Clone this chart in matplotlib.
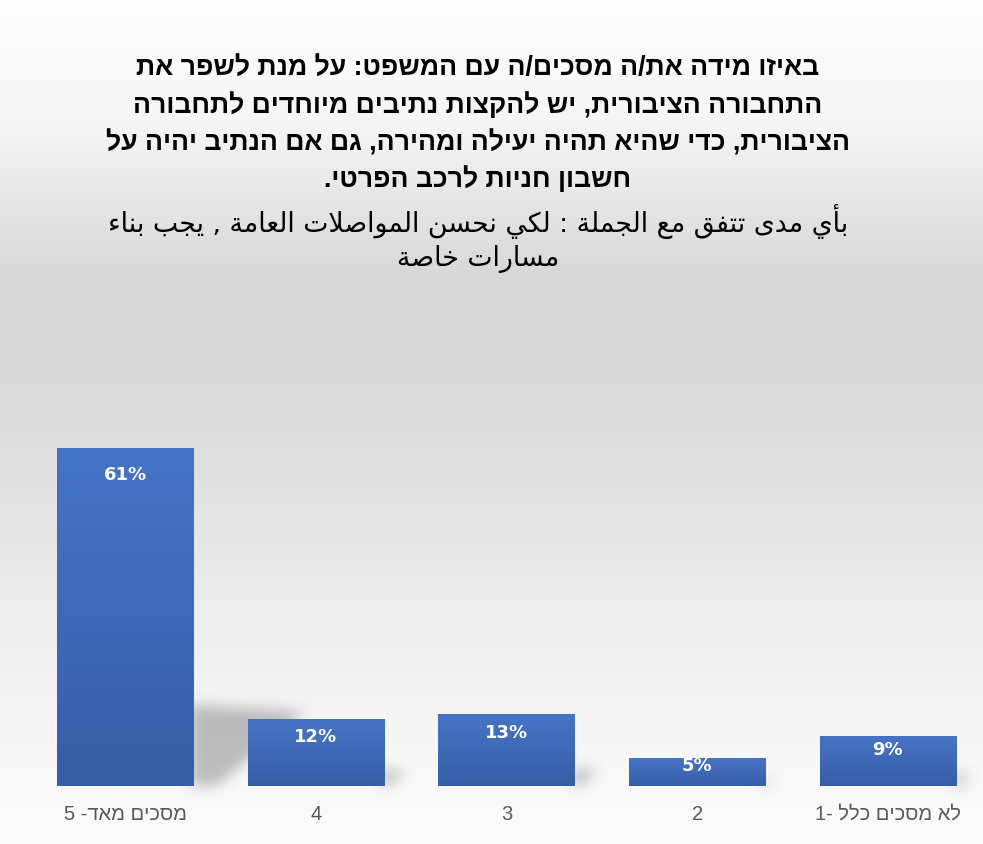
import numpy as np
import matplotlib
matplotlib.use("Agg")
import matplotlib.pyplot as plt
from matplotlib.path import Path

# --- data ---
categories = ["מסכים מאד- 5", "4", "3", "2", "לא מסכים כלל -1"]
values = [61, 12, 13, 5, 9]

title_he = [
    "באיזו מידה את/ה מסכים/ה עם המשפט: על מנת לשפר את",
    "התחבורה הציבורית, יש להקצות נתיבים מיוחדים לתחבורה",
    "הציבורית, כדי שהיא תהיה יעילה ומהירה, גם אם הנתיב יהיה על",
    "חשבון חניות לרכב הפרטי.",
]
title_ar = [
    "بأي مدى تتفق مع الجملة : لكي نحسن المواصلات العامة , يجب بناء",
    "مسارات خاصة",
]

W, H, DPI = 983, 845, 100

# arabic presentation forms: isolated, final, initial, medial
FORMS = {
    "ء": (0xFE80, None, None, None),
    "أ": (0xFE83, 0xFE84, None, None),
    "ا": (0xFE8D, 0xFE8E, None, None),
    "ب": (0xFE8F, 0xFE90, 0xFE91, 0xFE92),
    "ة": (0xFE93, 0xFE94, None, None),
    "ت": (0xFE95, 0xFE96, 0xFE97, 0xFE98),
    "ج": (0xFE9D, 0xFE9E, 0xFE9F, 0xFEA0),
    "ح": (0xFEA1, 0xFEA2, 0xFEA3, 0xFEA4),
    "خ": (0xFEA5, 0xFEA6, 0xFEA7, 0xFEA8),
    "د": (0xFEA9, 0xFEAA, None, None),
    "ر": (0xFEAD, 0xFEAE, None, None),
    "س": (0xFEB1, 0xFEB2, 0xFEB3, 0xFEB4),
    "ص": (0xFEB9, 0xFEBA, 0xFEBB, 0xFEBC),
    "ع": (0xFEC9, 0xFECA, 0xFECB, 0xFECC),
    "ف": (0xFED1, 0xFED2, 0xFED3, 0xFED4),
    "ق": (0xFED5, 0xFED6, 0xFED7, 0xFED8),
    "ك": (0xFED9, 0xFEDA, 0xFEDB, 0xFEDC),
    "ل": (0xFEDD, 0xFEDE, 0xFEDF, 0xFEE0),
    "م": (0xFEE1, 0xFEE2, 0xFEE3, 0xFEE4),
    "ن": (0xFEE5, 0xFEE6, 0xFEE7, 0xFEE8),
    "ه": (0xFEE9, 0xFEEA, 0xFEEB, 0xFEEC),
    "و": (0xFEED, 0xFEEE, None, None),
    "ى": (0xFEEF, 0xFEF0, None, None),
    "ي": (0xFEF1, 0xFEF2, 0xFEF3, 0xFEF4),
    "لا": (0xFEFB, 0xFEFC, None, None),
    "لأ": (0xFEF7, 0xFEF8, None, None),
}


def shape_arabic(s):
    # merge lam-alef, then pick contextual forms, then reverse for LTR drawing
    toks = []
    i = 0
    while i < len(s):
        if s[i] == "ل" and i + 1 < len(s) and s[i + 1] in "اأ":
            toks.append(s[i:i + 2])
            i += 2
        else:
            toks.append(s[i])
            i += 1
    joins = lambda t: t in FORMS and FORMS[t][2] is not None
    out = []
    for i, t in enumerate(toks):
        if t not in FORMS:
            out.append(t)
            continue
        prev_j = i > 0 and joins(toks[i - 1])
        next_j = joins(t) and i + 1 < len(toks) and toks[i + 1] in FORMS
        iso, fin, ini, med = FORMS[t]
        if prev_j and next_j:
            c = med
        elif prev_j:
            c = fin
        elif next_j:
            c = ini
        else:
            c = iso
        out.append(chr(c))
    return "".join(out)[::-1]


def rtl(s):
    return s[::-1]


fig = plt.figure(figsize=(W / DPI, H / DPI), dpi=DPI)
ax = fig.add_axes([30 / W, 58 / H, 953 / W, 487 / H])
ax.patch.set_alpha(0)

x = np.arange(len(values))
bars = ax.bar(x, values, width=0.714, color="none", edgecolor="none")

# gradient fill for each bar
grad = np.linspace(0, 1, 100).reshape(-1, 1)
top_c = np.array([70, 116, 197]) / 255
bot_c = np.array([54, 94, 168]) / 255
grad_img = (top_c * (1 - grad) + bot_c * grad).reshape(100, 1, 3)
for b in bars:
    x0, y0 = b.get_x(), b.get_y()
    ax.imshow(grad_img, extent=[x0, x0 + b.get_width(), y0, y0 + b.get_height()],
              aspect="auto", interpolation="bilinear", zorder=2)
ax.set_xlim(-0.5, len(values) - 0.5)
ax.set_ylim(0, 88.1)

for xi, v in zip(x, values):
    ax.text(xi, max(v - 4.5, v * 0.75), f"{v}%", ha="center", va="center",
            color="white", fontsize=13, fontweight="bold", zorder=3)

ax.set_xticks(x)
ax.set_xticklabels([rtl(c) for c in categories], fontsize=14.5, color="#595959",
                   family=["Liberation Sans", "DejaVu Sans"])
ax.tick_params(axis="x", length=0, pad=13)
ax.set_yticks([])
for sp in ax.spines.values():
    sp.set_visible(False)

# background: vertical gray gradient + soft perspective shadows
rows = np.arange(H)
stops_y = [0, 120, 280, 420, 600, 780, H]
stops_v = [253, 246, 215, 219, 236, 249, 251]
bg = np.interp(rows, stops_y, stops_v) / 255.0
bg = np.repeat(bg[:, None], W, axis=1)

yy, xx = np.mgrid[0:H, 0:W]
pts = np.column_stack([xx.ravel() + 0.5, (H - yy.ravel() - 0.5)])
mask = np.zeros(H * W)
for b in bars:
    (xl, yb), (xr, yt) = ax.transData.transform([(b.get_x(), 0),
                                                 (b.get_x() + b.get_width(), b.get_height())])
    h = yt - yb
    verts = [(xr - 3, yb), (xr - 3, yb + 0.24 * h), (xr + 0.33 * h, yb + 0.22 * h),
             (xr + 0.07 * h, yb)]
    mask = np.maximum(mask, Path(verts).contains_points(pts).astype(float))
mask = mask.reshape(H, W)


def blur1d(a, r, axis):
    a = np.moveaxis(a, axis, -1)
    p = np.pad(a, [(0, 0)] * (a.ndim - 1) + [(r + 1, r)], mode="edge")
    c = np.cumsum(p, axis=-1)
    out = (c[..., 2 * r + 1:] - c[..., :-2 * r - 1]) / (2 * r + 1)
    return np.moveaxis(out, -1, axis)


for _ in range(3):
    mask = blur1d(blur1d(mask, 6, 0), 6, 1)
img = bg * (1 - 0.24 * mask)
img = np.dstack([img, img, img])
fig.figimage(img, 0, 0, origin="upper", zorder=-1)

# titles
he_y = [68, 106, 143, 180]
for line, yp in zip(title_he, he_y):
    fig.text(478 / W, 1 - yp / H, rtl(line), ha="center", va="center", fontsize=19.2,
             fontweight="bold", color="black", family=["Liberation Sans", "DejaVu Sans"])
ar_y = [222, 259]
for line, yp in zip(title_ar, ar_y):
    fig.text(478 / W, 1 - yp / H, shape_arabic(line), ha="center", va="center",
             fontsize=19.3, color="black", family=["DejaVu Sans"])

fig.savefig("out.png", dpi=DPI)
